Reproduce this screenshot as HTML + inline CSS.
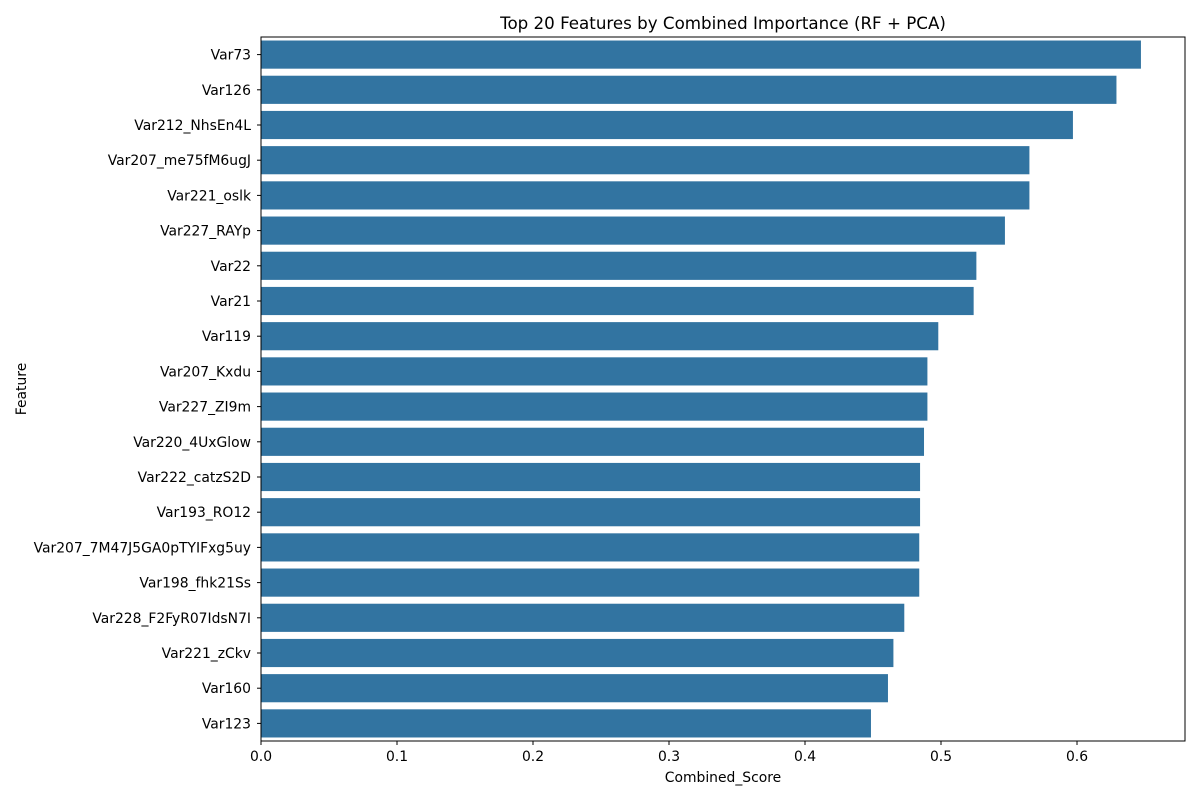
<!DOCTYPE html>
<html><head><meta charset="utf-8"><style>
body{margin:0;background:#fff;font-family:"DejaVu Sans","Liberation Sans",sans-serif;}
svg text{font-family:"DejaVu Sans","Liberation Sans",sans-serif;}
</style></head><body>
<svg id="chart" width="1200" height="800" xmlns="http://www.w3.org/2000/svg"></svg>
<script>
const categories=["Var73","Var126","Var212_NhsEn4L","Var207_me75fM6ugJ","Var221_oslk","Var227_RAYp","Var22","Var21","Var119","Var207_Kxdu","Var227_ZI9m","Var220_4UxGlow","Var222_catzS2D","Var193_RO12","Var207_7M47J5GA0pTYIFxg5uy","Var198_fhk21Ss","Var228_F2FyR07IdsN7I","Var221_zCkv","Var160","Var123"];
const scores=[0.647,0.629,0.597,0.565,0.565,0.547,0.526,0.524,0.498,0.490,0.490,0.4875,0.4846,0.4846,0.484,0.484,0.473,0.465,0.461,0.4485];
const xTicks=[0,0.1,0.2,0.3,0.4,0.5,0.6];
const xTickLabels=["0.0","0.1","0.2","0.3","0.4","0.5","0.6"];
const L=261,R=1185,T=37,B=741,xMax=0.6794;
const svg=document.getElementById('chart');
const NS="http://www.w3.org/2000/svg";
function x(v){return L+(v/xMax)*(R-L);}
const band=(B-T)/categories.length;
function yc(i){return T+band*(i+0.5);}
function el(tag,attrs,text){const e=document.createElementNS(NS,tag);for(const k in attrs)e.setAttribute(k,attrs[k]);if(text!==undefined)e.textContent=text;svg.appendChild(e);return e;}
categories.forEach((c,i)=>{
  const r=el('rect',{x:L,y:yc(i)-band*0.4,width:x(scores[i])-L,height:band*0.8,fill:'#3274a1'});
  
  
  el('line',{x1:L-4,x2:L,y1:yc(i),y2:yc(i),stroke:'#000','stroke-width':1});
  const t=el('text',{x:L-10,y:yc(i)+5,'text-anchor':'end','font-size':13.9,fill:'#000'},c);
  
  
});
xTicks.forEach((v,i)=>{
  el('line',{x1:x(v),x2:x(v),y1:B,y2:B+4,stroke:'#000','stroke-width':1});
  const t=el('text',{x:x(v),y:B+20,'text-anchor':'middle','font-size':13.9,fill:'#000'},xTickLabels[i]);
  
  
});
const f=el('rect',{x:L,y:T,width:R-L,height:B-T,fill:'none',stroke:'#000','stroke-width':1});


const tt=el('text',{x:(L+R)/2,y:29,'text-anchor':'middle','font-size':16.7,fill:'#000'},'Top 20 Features by Combined Importance (RF + PCA)');


const xt=el('text',{x:(L+R)/2,y:782,'text-anchor':'middle','font-size':13.9,fill:'#000'},'Combined_Score');


const yt=el('text',{x:26,y:(T+B)/2,'text-anchor':'middle','font-size':13.9,fill:'#000',transform:'rotate(-90 26 '+((T+B)/2)+')'},'Feature');


</script>
</body></html>
